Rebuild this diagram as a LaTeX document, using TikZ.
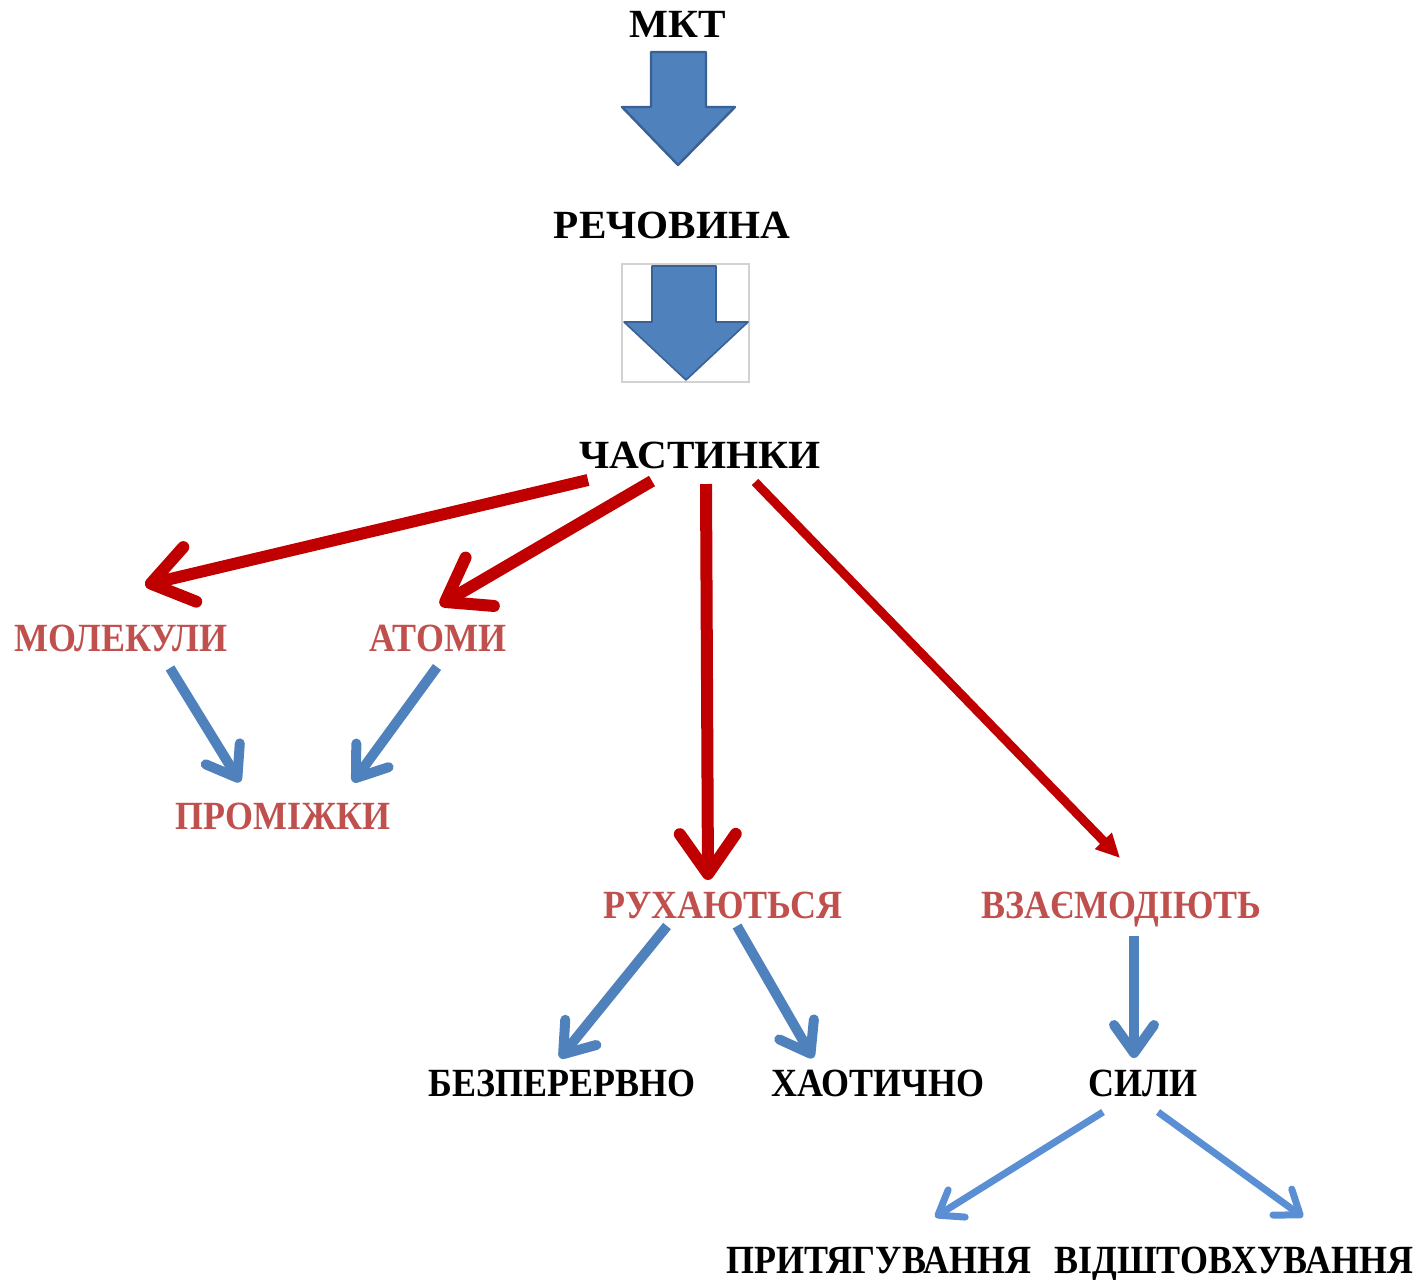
\documentclass[tikz,border=0pt]{standalone}
\usepackage{fontspec}
\setmainfont{Liberation Serif}[FakeStretch=0.9]
\newfontfamily\titlefont{Liberation Serif}[FakeStretch=1.03]
\usetikzlibrary{arrows.meta}

\definecolor{darkred}{HTML}{C00000}
\definecolor{rosered}{HTML}{C0504D}
\definecolor{steel}{HTML}{4F81BD}
\definecolor{steeldark}{HTML}{3A6194}
\definecolor{skyblue}{HTML}{5B8FD3}

\begin{document}
\begin{tikzpicture}[x=0.5pt, y=-0.5pt,
	word/.style={inner sep=0pt, text height=13pt, text depth=0pt,
		font=\fontsize{20}{24}\selectfont\bfseries},
	titleword/.style={word, font=\fontsize{20}{24}\selectfont\titlefont\bfseries},
	pinkword/.style={word, text=rosered},
	redarr/.style={color=darkred, line width=6pt,
		-{Straight Barb[length=20pt, width=28pt, round]}},
	thinred/.style={color=darkred, line width=4.5pt,
		-{Triangle[length=12pt, width=11pt]}},
	bluearr/.style={color=steel, line width=5pt,
		-{Straight Barb[length=14pt, width=20pt, round]}},
	skyarr/.style={color=skyblue, line width=3.5pt,
		-{Straight Barb[length=11pt, width=16pt, round]}},
	blockarr/.style={fill=steel, draw=steeldark, line width=1.2pt, line join=round}]
	\useasboundingbox (0,0) rectangle (1416,1279);

	\node[titleword] (mkt)   at (678,25)    {МКТ};
	\node[titleword] (rech)  at (672,225)   {РЕЧОВИНА};
	\node[titleword] (chast) at (700,455)   {ЧАСТИНКИ};
	\node[pinkword]  (mol)   at (121,638)   {МОЛЕКУЛИ};
	\node[pinkword]  (atom)  at (438,638)   {АТОМИ};
	\node[pinkword]  (prom)  at (283,816)   {ПРОМІЖКИ};
	\node[pinkword]  (rukh)  at (723,905)   {РУХАЮТЬСЯ};
	\node[pinkword]  (vzaem) at (1121,905)  {ВЗАЄМОДІЮТЬ};
	\node[word]      (bez)   at (562,1083)  {БЕЗПЕРЕРВНО};
	\node[word]      (khao)  at (878,1083)  {ХАОТИЧНО};
	\node[word]      (syly)  at (1143,1083) {СИЛИ};
	\node[word]      (prut)  at (879,1260)  {ПРИТЯГУВАННЯ};
	\node[word]      (vid)   at (1234,1260) {ВІДШТОВХУВАННЯ};

	% block arrows
	\draw[blockarr] (651,52) -- (706,52) -- (706,107) -- (735,107) -- (678,165)
		-- (622,107) -- (651,107) -- cycle;
	\draw[gray!35, line width=0.6pt] (622,264) rectangle (749,382);
	\draw[blockarr, line width=0.8pt] (652,266) -- (716,266) -- (716,322) -- (748,322)
		-- (686,380) -- (624,322) -- (652,322) -- cycle;

	\path[redarr] ([shift={(-112,25)}]chast.center) edge ([shift={(24,-53)}]mol.center);
	\path[redarr] ([shift={(-48,26)}]chast.center) edge ([shift={(2,-33)}]atom.center);
	\path[redarr] ([shift={(6,29)}]chast.center) edge ([shift={(-15,-25)}]rukh.center);
	\path[thinred] ([shift={(55,27)}]chast.center) edge ([shift={(-1,-47)}]vzaem.center);

	\path[bluearr] ([shift={(49,30)}]mol.center) edge ([shift={(-43,-34)}]prom.center);
	\path[bluearr] ([shift={(-1,29)}]atom.center) edge ([shift={(70,-34)}]prom.center);
	\path[bluearr] ([shift={(-56,21)}]rukh.center) edge ([shift={(-2,-25)}]bez.center);
	\path[bluearr] ([shift={(14,21)}]rukh.center) edge ([shift={(-65,-25)}]khao.center);
	\path[bluearr] ([shift={(13,31)}]vzaem.center) edge ([shift={(-9,-25)}]syly.center);

	\path[skyarr] ([shift={(-40,29)}]syly.center) edge ([shift={(56,-43)}]prut.center);
	\path[skyarr] ([shift={(15,29)}]syly.center) edge ([shift={(69,-43)}]vid.center);
\end{tikzpicture}
\end{document}
